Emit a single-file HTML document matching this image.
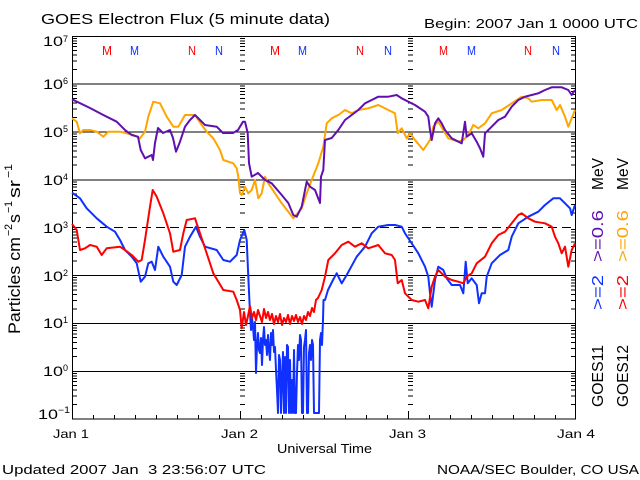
<!DOCTYPE html>
<html><head><meta charset="utf-8"><style>
html,body{margin:0;padding:0;background:#fff;}
svg{display:block;}
text{font-family:"Liberation Sans",sans-serif;fill:#000;}
</style></head><body>
<svg width="640" height="480" viewBox="0 0 640 480" xmlns="http://www.w3.org/2000/svg">
<rect width="640" height="480" fill="#fff"/>
<defs>
<path id="tk" d="M0 38.5h5M0 41h5M0 43.5h5M0 46.5h5M0 50.5h5M0 55h5M0 61h5M0 69.5h5
M0 86h5M0 88.5h5M0 91.5h5M0 94.5h5M0 98.5h5M0 103h5M0 109h5M0 117.5h5
M0 134h5M0 136.5h5M0 139h5M0 142.5h5M0 146h5M0 151h5M0 157h5M0 165h5
M0 182h5M0 184.5h5M0 187h5M0 190.5h5M0 194h5M0 198.5h5M0 204.5h5M0 213h5
M0 229.5h5M0 232h5M0 235h5M0 238h5M0 242h5M0 246.5h5M0 252.5h5M0 261h5
M0 277.5h5M0 280h5M0 283h5M0 286h5M0 290h5M0 294.5h5M0 300.5h5M0 309h5
M0 325.5h5M0 328h5M0 330.5h5M0 334h5M0 337.5h5M0 342.5h5M0 348.5h5M0 356.5h5
M0 373.5h5M0 376h5M0 378.5h5M0 381.5h5M0 385.5h5M0 390h5M0 396h5M0 404.5h5" stroke="#000" stroke-width="1" fill="none"/>
</defs>
<g shape-rendering="crispEdges">
<use href="#tk" x="72" y="0"/>
<use href="#tk" x="240" y="0"/>
<use href="#tk" x="408" y="0"/>
<use href="#tk" x="571" y="0"/>
<g stroke="#000" stroke-width="1" fill="none">
<path d="M72 84h504M72 132h504M72 180h504M72 275.5h504M72 323.5h504M72 371.5h504"/>
<path d="M72 227.5h504" stroke-dasharray="9,5"/>
<rect x="72.5" y="36.5" width="503" height="382.5"/>
<path d="M93.5 419v-4M114.5 419v-4M135.5 419v-4M156.5 419v-4M177.5 419v-4M198.5 419v-4M219.5 419v-4M240.5 419v-8
M261.5 419v-4M282.5 419v-4M303.5 419v-4M324.5 419v-4M345.5 419v-4M366.5 419v-4M387.5 419v-4M408.5 419v-8
M429.5 419v-4M450.5 419v-4M471.5 419v-4M492.5 419v-4M513.5 419v-4M534.5 419v-4M555.5 419v-4"/>
</g>
</g>

<g fill="none" stroke-width="2" stroke-linejoin="round">
<polyline stroke="#ffa500" points="72,118.3 76.7,121.7 80,133.3 83.3,130 90,130 96.7,131.7 103.3,136.7 108.3,131.7 120,131.7 126.7,133.3 133.3,135 140,138.3 145,131.7 148.3,116.7 153.3,101.7 160,103.3 166.7,116.7 173.3,126.7 178.3,126.7 185,115 195,115 201.7,125 206.7,131.7 213.3,138.3 220,150 223.3,160 233.3,163.3 236.7,168.3 238.3,176.7 240,193.3 241.7,195 245,186.7 248.3,193.3 251.7,190 255,180 258.3,198.3 261.7,193.3 265,176.7 268.3,183.3 275,193.3 281.7,203.3 288.3,211.7 293.3,218.3 301.7,208.3 306.7,193.3 311.7,180 318.3,163.3 323.3,146.7 326.7,123.3 331.7,118.3 338.3,115 345,110 351.7,113.3 358.3,110 368.3,108.3 378.3,105 388.3,110 395,113.3 397.7,133.3 401.7,128.3 406.7,138.3 410,133.3 415,140 423.3,150 430,140 433.3,126.7 438.3,121.7 443.3,130 448.3,138.3 458.3,141.7 463.3,140 468.3,135 473.3,125 478.3,128.3 485,123.3 491.7,113.3 501.7,110 511.7,103.3 521.7,96.7 528.3,98.3 531.7,101.7 541.7,100 551.7,100 556.7,110 560,105 565,116.7 568.3,126.7 571.7,118.3 575,110"/>
<polyline stroke="#6010b0" points="72,99.3 90,108 103.3,115 116.7,121.7 125,130 131.7,135 138,136.7 140.7,150 145,158.3 151.7,155 153,160 155,143 158,128 163,133 170,130 173,138 176,151.7 180,141.7 185,126.7 190,120 195,115 200,120 205,125 216.7,126.7 223,133 233,133 238,130 243,121.7 245,121.7 247.7,133 249,163 251.7,176.7 258,173 265,180 271.7,183.3 281.7,195 288.3,203 293.3,215 296.7,216.7 301.7,206.7 306.7,181.7 310,186.7 315,190 320,203 321,176.7 323.3,170 325,140 331.7,138 338.3,130 345,120 351.7,115 358.3,110 365,103.3 371.7,100 378.3,96.7 388.3,96.7 396.7,95 401.7,98.3 405,100 415,105 425,111.7 428.3,116.7 430,130 431.7,140 435,123.3 438.3,118.3 441.7,123.3 445,130 451.7,138.3 461.7,143.3 465,121.7 466.7,136.7 471.7,133.3 476.7,141.7 480,148.3 483.3,156.7 485,133.3 491.7,126.7 498.3,120 505,116.7 511.7,106.7 518.3,100 525,96.7 531.7,95 538.3,93.3 545,90 551.7,87.3 561.7,87.3 568.3,90 571.7,95 575,90"/>
<polyline stroke="#1030ff" points="72,192.7 80,198.3 86.7,208.3 96.7,218.3 106.7,226.7 115,231.7 120,240 125,250 131.7,256.7 136.7,263.3 140.7,281.7 145,276.7 148.3,263.3 151.7,261.7 155,270 158.3,246.7 163.3,256.7 170,266.7 173.3,281.7 176.7,285 181.7,275 185,246.7 190,236.7 196,226.7 200,236.7 205,246.7 216.7,250 223.3,260 230,261.7 236.7,255 240,240 244.3,230 246.7,240 248.3,276.7 250,313 251,330 252,318 253,327 254,340 255,322 256,373 257,345 258,333 259,350 260,353 261,338 262,365 263,340 264,327 265,345 266,340 267,355 268,335 269,350 270,360 271,333 272,345 273,330 274,352 275,347 276,370 277,390 278,413 279,355 280,360 281,413 282,380 283,352 284,413 285,357 286,413 287,345 288,347 289,413 290,360 291,413 292,380 293,413 294,350 295,413 296,413 297,373 298,345 299,360 300,335 301,340 302,413 303,413 304,347 305,340 306,330 307,413 308,413 309,353 310,345 311,360 312,340 313,345 314,413 315,413 316,413 317,413 318,413 319,413 320,340 321,333 322,345 323,320 323.5,300 325,300 328,290 333,280 336.7,273.3 341.7,283.3 346.7,275 356.7,256.7 365,246.7 371.7,233.3 378.3,226.7 388.3,225 395,225 401.7,226.7 405,233.3 411.7,243.3 418.3,253.3 425,266.7 428.3,276.7 430,293.3 431.7,306.7 435,280 438.3,266.7 443.3,270 446.7,278.3 451.7,285 460,285 463.3,293.3 465.7,261.7 467.7,283.3 471.7,278.3 476.7,285 479,303.3 481.7,293.3 485,293.3 486.7,276.7 491.7,263.3 500,255 508.3,250 511.7,236.7 518.3,223.3 528.3,216.7 538.3,211.7 545,205 553.3,198.3 560,198.3 565,203.3 570,208.3 571.7,215 575,205"/>
<polyline stroke="#ff0000" points="72,224 76.7,230 80,250 85,248.3 90,245 96.7,246.7 101.7,255 106.7,248.3 120,246.7 125,250 131.7,255 138.3,261.7 141.7,260 145,240 150,206.7 152.7,190 156.7,196.7 163.3,213.3 170,233.3 173.3,251.7 180,250 183.3,233.3 186.7,220 195,218.3 200,233.3 206.7,253.3 213.3,273.3 223.3,290 233.3,291.7 236.7,300 240,310 241.7,328.3 244,312 246,325 248,316 250,306 252,318 254,312 256,320 258,310 260,316 262,322 264,309 266,318 268,312 270,320 272,314 274,324 276,316 278,322 280,314 282,325 284,318 286,322 288,315 290,324 292,316 294,321 296,315 298,322 300,317 302,324 304,316 306,320 308,312 310,316 312,308 314,312 316,300 318,298 321.7,290 325,276.7 328.3,260 335,253.3 341.7,245 348.3,241.7 355,246.7 361.7,243.3 368.3,248.3 378.3,245 385,253.3 391.7,255 395,260 397.7,283.3 401.7,280 405,293.3 411.7,300 418.3,301.7 425,300 428.3,308.3 431.7,286.7 435,276.7 438.3,270 445,276.7 451.7,280 458.3,281.7 463.3,283.3 466.7,276.7 471.7,273.3 476.7,263.3 485,256.7 491.7,243.3 498.3,235 505,231.7 511.7,223.3 518.3,215 521.7,213.3 528.3,218.3 535,221.7 545,223.3 551.7,226.7 555,236.7 558.3,243.3 561.7,253.3 565,246.7 568.3,266.7 571.7,250 575,243.3"/>
</g>

<text x="41" y="24" font-size="15" textLength="289" lengthAdjust="spacingAndGlyphs">GOES Electron Flux (5 minute data)</text>
<text x="424" y="28" font-size="13" textLength="214" lengthAdjust="spacingAndGlyphs">Begin: 2007 Jan 1 0000 UTC</text>

<g font-size="13">
<text x="102" y="55" style="fill:#ff0000" textLength="10" lengthAdjust="spacingAndGlyphs">M</text>
<text x="130" y="55" style="fill:#1030ff" textLength="9" lengthAdjust="spacingAndGlyphs">M</text>
<text x="188" y="55" style="fill:#ff0000" textLength="8" lengthAdjust="spacingAndGlyphs">N</text>
<text x="215" y="55" style="fill:#1030ff" textLength="8" lengthAdjust="spacingAndGlyphs">N</text>
<text x="270" y="55" style="fill:#ff0000" textLength="10" lengthAdjust="spacingAndGlyphs">M</text>
<text x="298" y="55" style="fill:#1030ff" textLength="9" lengthAdjust="spacingAndGlyphs">M</text>
<text x="356" y="55" style="fill:#ff0000" textLength="8" lengthAdjust="spacingAndGlyphs">N</text>
<text x="384" y="55" style="fill:#1030ff" textLength="8" lengthAdjust="spacingAndGlyphs">N</text>
<text x="439" y="55" style="fill:#ff0000" textLength="9" lengthAdjust="spacingAndGlyphs">M</text>
<text x="467" y="55" style="fill:#1030ff" textLength="9" lengthAdjust="spacingAndGlyphs">M</text>
<text x="524" y="55" style="fill:#ff0000" textLength="8" lengthAdjust="spacingAndGlyphs">N</text>
<text x="552" y="55" style="fill:#1030ff" textLength="8" lengthAdjust="spacingAndGlyphs">N</text>
</g>

<g font-size="14">
<text x="43" y="46" textLength="20" lengthAdjust="spacingAndGlyphs">10</text>
<text x="43" y="89" textLength="20" lengthAdjust="spacingAndGlyphs">10</text>
<text x="43" y="137" textLength="20" lengthAdjust="spacingAndGlyphs">10</text>
<text x="43" y="185" textLength="20" lengthAdjust="spacingAndGlyphs">10</text>
<text x="43" y="233" textLength="20" lengthAdjust="spacingAndGlyphs">10</text>
<text x="43" y="281" textLength="20" lengthAdjust="spacingAndGlyphs">10</text>
<text x="43" y="328" textLength="20" lengthAdjust="spacingAndGlyphs">10</text>
<text x="43" y="376" textLength="20" lengthAdjust="spacingAndGlyphs">10</text>
<text x="38" y="419" textLength="20" lengthAdjust="spacingAndGlyphs">10</text>
</g>
<g font-size="9">
<text x="63" y="42">7</text>
<text x="63" y="84">6</text>
<text x="63" y="132">5</text>
<text x="63" y="180">4</text>
<text x="63" y="228">3</text>
<text x="63" y="276">2</text>
<text x="63" y="323">1</text>
<text x="63" y="371">0</text>
<text x="58" y="413" textLength="12" lengthAdjust="spacingAndGlyphs">−1</text>
</g>

<g transform="translate(20,334) rotate(-90)">
<text x="0" y="0" font-size="17" textLength="97" lengthAdjust="spacingAndGlyphs">Particles cm</text>
<text x="98" y="-8" font-size="11" textLength="12" lengthAdjust="spacingAndGlyphs">−2</text>
<text x="111" y="0" font-size="17" textLength="9" lengthAdjust="spacingAndGlyphs">s</text>
<text x="121" y="-8" font-size="11" textLength="12" lengthAdjust="spacingAndGlyphs">−1</text>
<text x="136" y="0" font-size="17" textLength="18" lengthAdjust="spacingAndGlyphs">sr</text>
<text x="156" y="-8" font-size="11" textLength="14" lengthAdjust="spacingAndGlyphs">−1</text>
</g>

<g font-size="16">
<text transform="translate(603,310) rotate(-90)" style="fill:#1030ff" textLength="35" lengthAdjust="spacingAndGlyphs">&gt;=2</text>
<text transform="translate(603,262) rotate(-90)" style="fill:#6010b0" textLength="52" lengthAdjust="spacingAndGlyphs">&gt;=0.6</text>
<text transform="translate(603,190) rotate(-90)" textLength="32" lengthAdjust="spacingAndGlyphs">MeV</text>
<text transform="translate(628,310) rotate(-90)" style="fill:#ff0000" textLength="35" lengthAdjust="spacingAndGlyphs">&gt;=2</text>
<text transform="translate(628,262) rotate(-90)" style="fill:#ffa500" textLength="52" lengthAdjust="spacingAndGlyphs">&gt;=0.6</text>
<text transform="translate(628,190) rotate(-90)" textLength="32" lengthAdjust="spacingAndGlyphs">MeV</text>
<text transform="translate(603,407) rotate(-90)" textLength="62" lengthAdjust="spacingAndGlyphs">GOES11</text>
<text transform="translate(628,407) rotate(-90)" textLength="62" lengthAdjust="spacingAndGlyphs">GOES12</text>
</g>

<g font-size="12">
<text x="53" y="438" textLength="36" lengthAdjust="spacingAndGlyphs">Jan 1</text>
<text x="221" y="438" textLength="37" lengthAdjust="spacingAndGlyphs">Jan 2</text>
<text x="389" y="438" textLength="37" lengthAdjust="spacingAndGlyphs">Jan 3</text>
<text x="557" y="438" textLength="38" lengthAdjust="spacingAndGlyphs">Jan 4</text>
</g>
<text x="277" y="453" font-size="13" textLength="95" lengthAdjust="spacingAndGlyphs">Universal Time</text>
<text x="2" y="474" font-size="13" textLength="264" lengthAdjust="spacingAndGlyphs" style="white-space:pre">Updated 2007 Jan  3 23:56:07 UTC</text>
<text x="437" y="474" font-size="13" textLength="202" lengthAdjust="spacingAndGlyphs">NOAA/SEC Boulder, CO USA</text>
</svg>
</body></html>
